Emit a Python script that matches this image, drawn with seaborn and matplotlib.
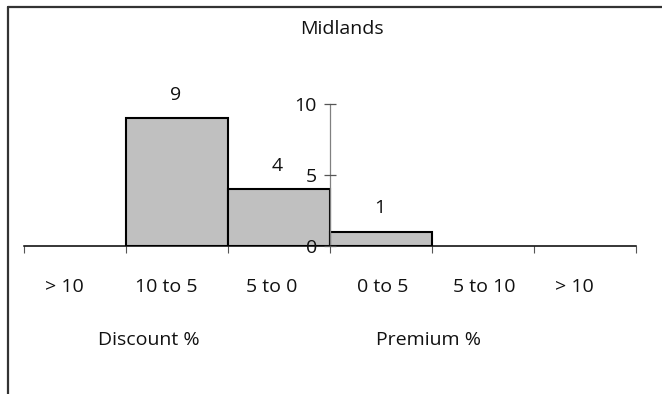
import matplotlib
matplotlib.use("Agg")
import matplotlib.pyplot as plt
from matplotlib.lines import Line2D
import seaborn as sns
import pandas as pd

# Histogram of discount / premium bands
categories = ["> 10", "10 to 5", "5 to 0", "0 to 5", "5 to 10", "> 10 "]
counts = [0, 9, 4, 1, 0, 0]
title = "Midlands"
group_labels = ["Discount %", "Premium %"]
y_ticks = [0, 5, 10]

sns.set_theme(style="white")
plt.rcParams["font.family"] = ["Open Sans", "DejaVu Sans"]

W, H, DPI = 662, 394, 100
fig = plt.figure(figsize=(W / DPI, H / DPI), dpi=DPI)
fig.patch.set_facecolor("white")

# axes spanning the category axis; y from 0 to 10
ax_left, ax_right = 24 / W, 636 / W
ax_bottom, ax_top = (H - 246) / H, (H - 104) / H
ax = fig.add_axes([ax_left, ax_bottom, ax_right - ax_left, ax_top - ax_bottom])
ax.set_facecolor("none")

df = pd.DataFrame({"band": range(len(categories)), "count": counts})
sns.barplot(data=df, x="band", y="count", width=1.0, color="#C0C0C0",
            edgecolor="black", linewidth=1.5, saturation=1, ax=ax,
            native_scale=True)

# empty bands get no outline
for patch in ax.patches:
    if patch.get_height() == 0:
        patch.set_linewidth(0)

ax.set_xlim(-0.5, len(categories) - 0.5)
ax.set_ylim(0, 10)
ax.set_xlabel("")
ax.set_ylabel("")

# category axis along y = 0, ticks at the band boundaries
for s in ["top", "right"]:
    ax.spines[s].set_visible(False)
ax.spines["bottom"].set_position(("data", 0))
ax.spines["bottom"].set_color("black")
ax.spines["bottom"].set_linewidth(1.1)
ax.spines["bottom"].set_zorder(5)
ax.set_xticks([i - 0.5 for i in range(len(categories) + 1)])
ax.set_xticklabels([])
ax.tick_params(axis="x", direction="out", length=5, width=0.8, color="#555555",
               bottom=True)

# value axis placed between the discount and premium bands
ax.spines["left"].set_position(("data", 2.5))
ax.spines["left"].set_bounds(0, 10)
ax.spines["left"].set_color("#808080")
ax.spines["left"].set_linewidth(0.9)
ax.set_yticks(y_ticks)
ax.set_yticklabels([str(t) for t in y_ticks])
ax.tick_params(axis="y", direction="inout", length=9, width=0.9, color="#555555",
               left=True, pad=5, labelsize=14, labelcolor="#111111")
ax.yaxis.set_zorder(10)
for lbl in ax.get_yticklabels():
    if lbl.get_text() == "0":
        lbl.set_y(-0.15)

# counts above the bars
for i, v in enumerate(counts):
    if v > 0:
        ax.annotate(str(v), (i, v), xytext=(-1, 17), textcoords="offset points",
                    ha="center", va="center", fontsize=14, color="#111111")

# band labels below the axis
label_shift = [-0.1, -0.11, -0.07, 0.02, 0.01, -0.1]
for i, lab in enumerate(categories):
    ax.text(i + label_shift[i], -2.9, lab.strip(), ha="center", va="center",
            fontsize=14, color="#111111", clip_on=False)

ax.text(0.72, -6.6, group_labels[0], ha="center", va="center", fontsize=14,
        color="#111111", clip_on=False)
ax.text(3.47, -6.6, group_labels[1], ha="center", va="center", fontsize=14,
        color="#111111", clip_on=False)

fig.text(342 / W, 1 - 29 / H, title, ha="center", va="center", fontsize=14,
         color="#111111")

# chart frame: top and left edges
fig.add_artist(Line2D([7.5 / W, 1.0], [1 - 6.5 / H, 1 - 6.5 / H],
                      transform=fig.transFigure, color="#333333", lw=1.6))
fig.add_artist(Line2D([7.5 / W, 7.5 / W], [0.0, 1 - 6.5 / H],
                      transform=fig.transFigure, color="#333333", lw=1.6))

fig.savefig("out.png", dpi=DPI, facecolor="white")
